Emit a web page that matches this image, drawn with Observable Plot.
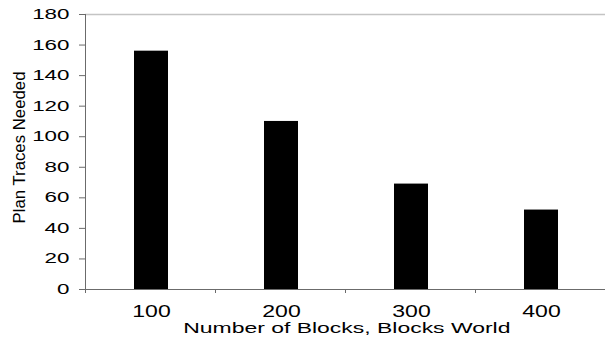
<!DOCTYPE html>
<html>
<head>
<meta charset="utf-8">
<script src="https://cdn.jsdelivr.net/npm/d3@7"></script>
<script src="https://cdn.jsdelivr.net/npm/@observablehq/plot@0.6"></script>
<style>
  html, body { margin: 0; padding: 0; background: white; }
</style>
</head>
<body>
<script>
const categories = ["100", "200", "300", "400"];
const traces = [156, 110, 69, 52];
const yTicks = [0, 20, 40, 60, 80, 100, 120, 140, 160, 180];
const xLabel = "Number of Blocks, Blocks World";
const yLabel = "Plan Traces Needed";

const data = categories.map((c, i) => ({blocks: c, traces: traces[i]}));

const axisColor = "#6b6b6b";

const frameMarks = (index, scales, values, dimensions) => {
  const {marginLeft, marginTop, marginBottom, height} = dimensions;
  const g = d3.create("svg:g").attr("stroke", axisColor).attr("stroke-width", 1);
  const x0 = marginLeft + 0.5;
  const yb = height - marginBottom;
  const step = scales.x(categories[1]) - scales.x(categories[0]);
  g.append("line").attr("x1", x0).attr("x2", x0).attr("y1", marginTop).attr("y2", yb + 4);
  for (let k = 1; k <= categories.length; k++) {
    const xx = Math.round(marginLeft + k * step) + 0.5;
    g.append("line").attr("x1", xx).attr("x2", xx).attr("y1", yb).attr("y2", yb + 4);
  }
  return g.node();
};

const plot = Plot.plot({
  width: 605,
  height: 341,
  marginLeft: 85,
  marginRight: -2.7,
  marginTop: 14,
  marginBottom: 52,
  style: {fontFamily: "'Liberation Sans', Arial, sans-serif", color: "black", background: "white"},
  x: {type: "band", domain: categories, paddingInner: 0.74, paddingOuter: 0.37, label: null},
  y: {domain: [0, 180], label: null},
  marks: [
    Plot.ruleY([180], {stroke: "#c4c4c4", strokeWidth: 1.3}),
    Plot.barY(data, {x: "blocks", y: "traces", fill: "black"}),
    Plot.ruleY([0], {stroke: axisColor}),
    frameMarks,
    Plot.axisY(yTicks, {tickSize: 6, tickPadding: 10, fontSize: 14, stroke: axisColor, label: null, className: "yt"}),
    Plot.axisX({tickSize: 0, tickPadding: 16, fontSize: 16, label: null, className: "xt"}),
    Plot.text([xLabel], {frameAnchor: "bottom", dy: 43, lineAnchor: "bottom", fontSize: 15.5, fill: "black", className: "xl"}),
    Plot.text([yLabel], {frameAnchor: "left", textAnchor: "middle", rotate: -90, dx: -61, dy: -4.5, lineAnchor: "bottom", fontSize: 16.8, fill: "black", className: "yl"})
  ]
});

document.body.append(plot);

function stretch(sel, factor) {
  plot.querySelectorAll(sel).forEach(t => {
    const len = t.getComputedTextLength();
    t.setAttribute("textLength", (len * factor).toFixed(2));
    t.setAttribute("lengthAdjust", "spacingAndGlyphs");
  });
}
stretch(".yt text", 1.6);
stretch(".xt text", 1.44);
stretch(".xl text", 1.48);
</script>
</body>
</html>
